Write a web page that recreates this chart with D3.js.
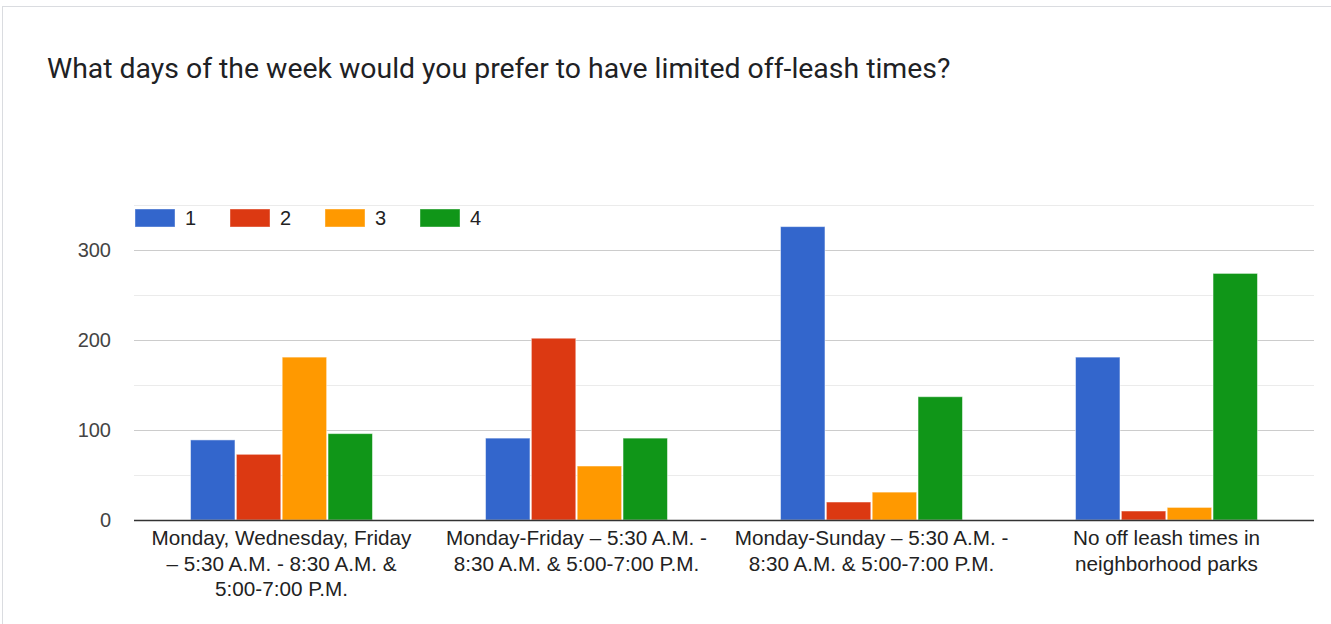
<!DOCTYPE html>
<html><head><meta charset="utf-8">
<script src="https://cdnjs.cloudflare.com/ajax/libs/d3/7.8.5/d3.min.js"></script>
<style>
html,body{margin:0;padding:0;background:#fff;}
svg{display:block;font-family:Arial,"Liberation Sans",sans-serif;}
</style></head><body>
<svg id="chart" width="1331" height="624"></svg>
<script>
const title = "What days of the week would you prefer to have limited off-leash times?";
const categories = [
  ["Monday, Wednesday, Friday", "– 5:30 A.M. - 8:30 A.M. &", "5:00-7:00 P.M."],
  ["Monday-Friday – 5:30 A.M. -", "8:30 A.M. & 5:00-7:00 P.M."],
  ["Monday-Sunday – 5:30 A.M. -", "8:30 A.M. & 5:00-7:00 P.M."],
  ["No off leash times in", "neighborhood parks"]
];
const seriesNames = ["1", "2", "3", "4"];
const series1 = [89, 91, 326, 181];
const series2 = [73, 202, 20, 10];
const series3 = [181, 60, 31, 14];
const series4 = [96, 91, 137, 274];
const colors = ["#3366cc", "#dc3912", "#ff9900", "#109618"];
const yTicks = [0, 100, 200, 300];
const yMinor = [50, 150, 250, 350];

const allSeries = [series1, series2, series3, series4];
const svg = d3.select("#chart");

svg.append("rect").attr("x", 2.5).attr("y", 6.5).attr("width", 1340).attr("height", 640)
  .attr("fill", "#fff").attr("stroke", "#dadce0").attr("stroke-width", 1);

svg.append("text").attr("x", 47).attr("y", 78).attr("font-size", 28.4)
  .attr("font-family", "Roboto, Arial, sans-serif").attr("fill", "#202124")
  .text(title);

const pLeft = 134, pRight = 1314, pTop = 205, pBottom = 520;
const x0 = d3.scaleBand().domain(d3.range(categories.length)).range([pLeft, pRight]).paddingInner(0).paddingOuter(0);
const x1 = d3.scaleBand().domain(d3.range(seriesNames.length)).range([0, x0.bandwidth()]).paddingOuter(1.233).paddingInner(0.03);
const y = d3.scaleLinear().domain([0, 350]).range([pBottom, pTop]);

const g = svg.append("g");
g.selectAll(".minor").data(yMinor).join("line")
  .attr("x1", pLeft).attr("x2", pRight).attr("y1", d => Math.round(y(d)) + 0.5).attr("y2", d => Math.round(y(d)) + 0.5)
  .attr("stroke", "#ebebeb").attr("stroke-width", 1);
g.selectAll(".major").data(yTicks.filter(d => d > 0)).join("line")
  .attr("x1", pLeft).attr("x2", pRight).attr("y1", d => Math.round(y(d)) + 0.5).attr("y2", d => Math.round(y(d)) + 0.5)
  .attr("stroke", "#cccccc").attr("stroke-width", 1);

g.selectAll(".ylab").data(yTicks).join("text")
  .attr("x", 111).attr("y", d => y(d) + 7).attr("text-anchor", "end")
  .attr("font-size", 20).attr("fill", "#444").text(d => d);

categories.forEach((c, ci) => {
  allSeries.forEach((s, si) => {
    g.append("rect")
      .attr("x", x0(ci) + x1(si)).attr("width", x1.bandwidth())
      .attr("y", y(s[ci])).attr("height", pBottom - y(s[ci]))
      .attr("fill", colors[si]).attr("stroke", "#fff").attr("stroke-opacity", 0.5).attr("stroke-width", 1);
  });
});

g.append("line").attr("x1", pLeft).attr("x2", pRight).attr("y1", pBottom + 0.5).attr("y2", pBottom + 0.5)
  .attr("stroke", "#333").attr("stroke-width", 1.5);

categories.forEach((lines, ci) => {
  const t = g.append("text").attr("text-anchor", "middle").attr("font-size", 20.7).attr("fill", "#222");
  lines.forEach((ln, li) => {
    t.append("tspan").attr("x", x0(ci) + x0.bandwidth() / 2).attr("y", 545 + li * 25.7).text(ln);
  });
});

const leg = g.append("g");
seriesNames.forEach((n, i) => {
  const lx = 135 + i * 95;
  leg.append("rect").attr("x", lx).attr("y", 209).attr("width", 40).attr("height", 18)
    .attr("fill", colors[i]).attr("stroke", "#fff").attr("stroke-opacity", 0.4);
  leg.append("text").attr("x", lx + 50).attr("y", 225).attr("font-size", 20).attr("fill", "#222").text(n);
});
</script>
</body></html>
